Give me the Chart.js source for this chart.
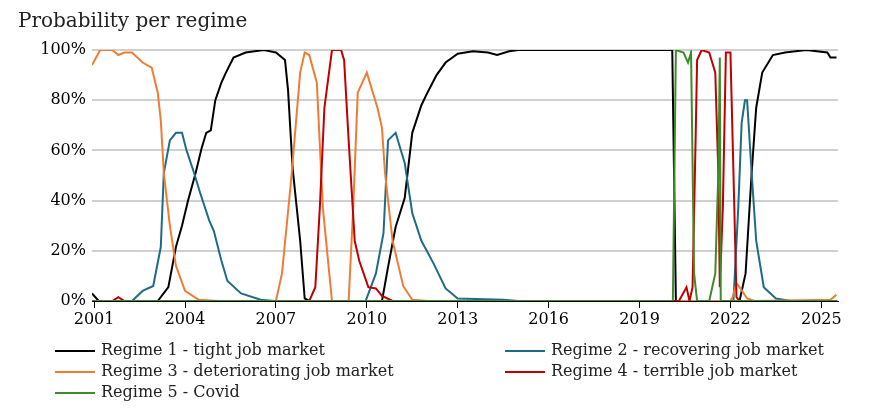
<!DOCTYPE html>
<html>
<head>
<meta charset="utf-8">
<script src="https://cdn.jsdelivr.net/npm/chart.js@4"></script>
<style>
  body { margin: 0; background: #fff; }
  #wrap { position: relative; width: 871px; height: 415px; font-family: "DejaVu Serif", serif; }
  #title { position: absolute; left: 18px; top: 8px; font-size: 20px; color: #222; }
  .lg { position: absolute; font-size: 16px; color: #222; white-space: nowrap; }
  .lg i { display: inline-block; width: 40px; height: 0; border-top: 2px solid; vertical-align: middle; margin-right: 6px; }
</style>
</head>
<body>
<div id="wrap">
  <canvas id="myChart" width="871" height="415"></canvas>
  <div id="title">Probability per regime</div>
  <div id="legend"></div>
</div>
<script>
// [year, probability %]
const regime1 = [[2000.93,3],[2001.15,0],[2003.1,0],[2003.45,5.5],[2003.7,21.5],[2003.9,30],[2004.1,40],[2004.35,51],[2004.55,61],[2004.7,67],[2004.85,68],[2005.0,80],[2005.2,87],[2005.35,91],[2005.6,97],[2006.0,99],[2006.6,100],[2007.0,99],[2007.3,96],[2007.4,84],[2007.55,53],[2007.8,24],[2007.95,1],[2008.1,0],[2010.5,0],[2010.7,13.5],[2010.95,29.5],[2011.25,41],[2011.5,67],[2011.8,78],[2012.0,83],[2012.3,90],[2012.6,95],[2013.0,98.5],[2013.5,99.5],[2014.0,99],[2014.3,98],[2014.7,99.5],[2015.0,100],[2020.08,100],[2020.2,0],[2022.3,0],[2022.5,11],[2022.7,51],[2022.85,77],[2023.05,91],[2023.4,98],[2023.8,99],[2024.5,100],[2025.2,99],[2025.3,97],[2025.5,97]];
const regime2 = [[2000.93,0],[2002.25,0],[2002.6,4],[2002.95,6],[2003.2,21.5],[2003.3,51],[2003.5,64],[2003.7,67],[2003.9,67],[2004.05,60],[2004.3,51],[2004.5,43],[2004.8,32],[2004.95,28],[2005.2,16],[2005.4,8],[2005.85,3],[2006.5,0.5],[2006.95,0],[2009.96,0],[2010.3,11],[2010.55,27],[2010.7,64],[2010.95,67],[2011.25,55],[2011.5,35],[2011.8,24],[2012.2,15],[2012.6,5],[2013.0,1],[2014.5,0.5],[2015.0,0],[2022.1,0],[2022.26,37.5],[2022.37,71],[2022.48,80],[2022.55,80],[2022.7,51],[2022.85,24],[2023.1,5.5],[2023.5,1],[2024.0,0],[2025.5,0]];
const regime3 = [[2000.93,94],[2001.2,100],[2001.6,100],[2001.8,98],[2002.0,99],[2002.25,99],[2002.6,95],[2002.9,93],[2003.1,83],[2003.2,72],[2003.3,51],[2003.5,30],[2003.7,14],[2004.0,4],[2004.45,0.5],[2005.1,0],[2007.0,0],[2007.2,11],[2007.5,48],[2007.8,91],[2007.95,99],[2008.1,98],[2008.35,87],[2008.55,37],[2008.85,0],[2009.4,0],[2009.55,37],[2009.7,83],[2010.0,91],[2010.35,77],[2010.5,69],[2010.6,51],[2010.85,24],[2011.2,6],[2011.5,0.5],[2012.0,0],[2022.0,0],[2022.07,1.5],[2022.2,7],[2022.3,5.5],[2022.55,1],[2022.8,0],[2025.3,0.5],[2025.5,2.5]];
const regime4 = [[2000.93,0],[2001.6,0],[2001.8,1.5],[2002.0,0],[2008.1,0],[2008.3,5.5],[2008.45,37.5],[2008.6,77],[2008.85,100],[2009.15,100],[2009.25,96],[2009.4,64],[2009.6,24],[2009.75,16],[2010.05,5.5],[2010.3,5],[2010.5,2],[2010.85,0],[2020.3,0],[2020.55,5.5],[2020.65,0],[2020.75,5.5],[2020.85,64],[2020.9,96],[2021.05,100],[2021.3,99],[2021.5,91],[2021.6,51],[2021.65,5.5],[2021.75,37.5],[2021.85,99],[2022.0,99],[2022.1,51],[2022.2,1.5],[2022.3,0],[2025.5,0]];
const regime5 = [[2000.93,0],[2020.1,0],[2020.2,100],[2020.45,99],[2020.6,95],[2020.7,99],[2020.8,11],[2020.9,0],[2021.3,0],[2021.5,11],[2021.6,51],[2021.65,97],[2021.68,0],[2025.5,0]];
const xTicks = [2001, 2004, 2007, 2010, 2013, 2016, 2019, 2022, 2025];

const names = ['Regime 1 - tight job market', 'Regime 2 - recovering job market', 'Regime 3 - deteriorating job market', 'Regime 4 - terrible job market', 'Regime 5 - Covid'];
const colors = ['#000000', '#1f6b85', '#ee7d33', '#c00000', '#3d8b2a'];
const series = [regime1, regime2, regime3, regime4, regime5];

const ctx = document.getElementById('myChart');
new Chart(ctx, {
  type: 'line',
  data: {
    datasets: series.map((s, i) => ({
      label: names[i],
      data: s.map(p => ({ x: p[0], y: p[1] })),
      borderColor: colors[i],
      borderWidth: 2,
      pointRadius: 0,
      tension: 0,
      order: 5 - i
    }))
  },
  options: {
    responsive: false,
    animation: false,
    layout: { padding: { left: 0, right: 33, top: 50, bottom: 0 } },
    plugins: { legend: { display: false }, tooltip: { enabled: false } },
    scales: {
      x: {
        type: 'linear',
        min: 2000.93,
        max: 2025.55,
        afterBuildTicks: s => { s.ticks = xTicks.map(v => ({ value: v })); },
        afterFit: s => { s.height = 114; },
        ticks: { callback: v => String(v), color: '#000', font: { family: 'DejaVu Serif', size: 16 }, maxRotation: 0, padding: 2 },
        grid: { drawOnChartArea: false, color: '#000', tickLength: 7 },
        border: { color: '#000' }
      },
      y: {
        min: 0,
        max: 100,
        afterFit: s => { s.width = 92; },
        ticks: { stepSize: 20, callback: v => v + '%', color: '#000', font: { family: 'DejaVu Serif', size: 16 }, padding: 6 },
        grid: { color: '#d0d0d0', lineWidth: 2, drawTicks: false },
        border: { display: false }
      }
    }
  }
});

// legend in two columns
const pos = [[55, 340], [505, 340], [55, 361], [505, 361], [55, 382]];
const lg = document.getElementById('legend');
names.forEach((n, i) => {
  const d = document.createElement('div');
  d.className = 'lg';
  d.style.left = pos[i][0] + 'px';
  d.style.top = pos[i][1] + 'px';
  d.innerHTML = '<i style="border-color:' + colors[i] + '"></i>' + n;
  lg.appendChild(d);
});
</script>
</body>
</html>
